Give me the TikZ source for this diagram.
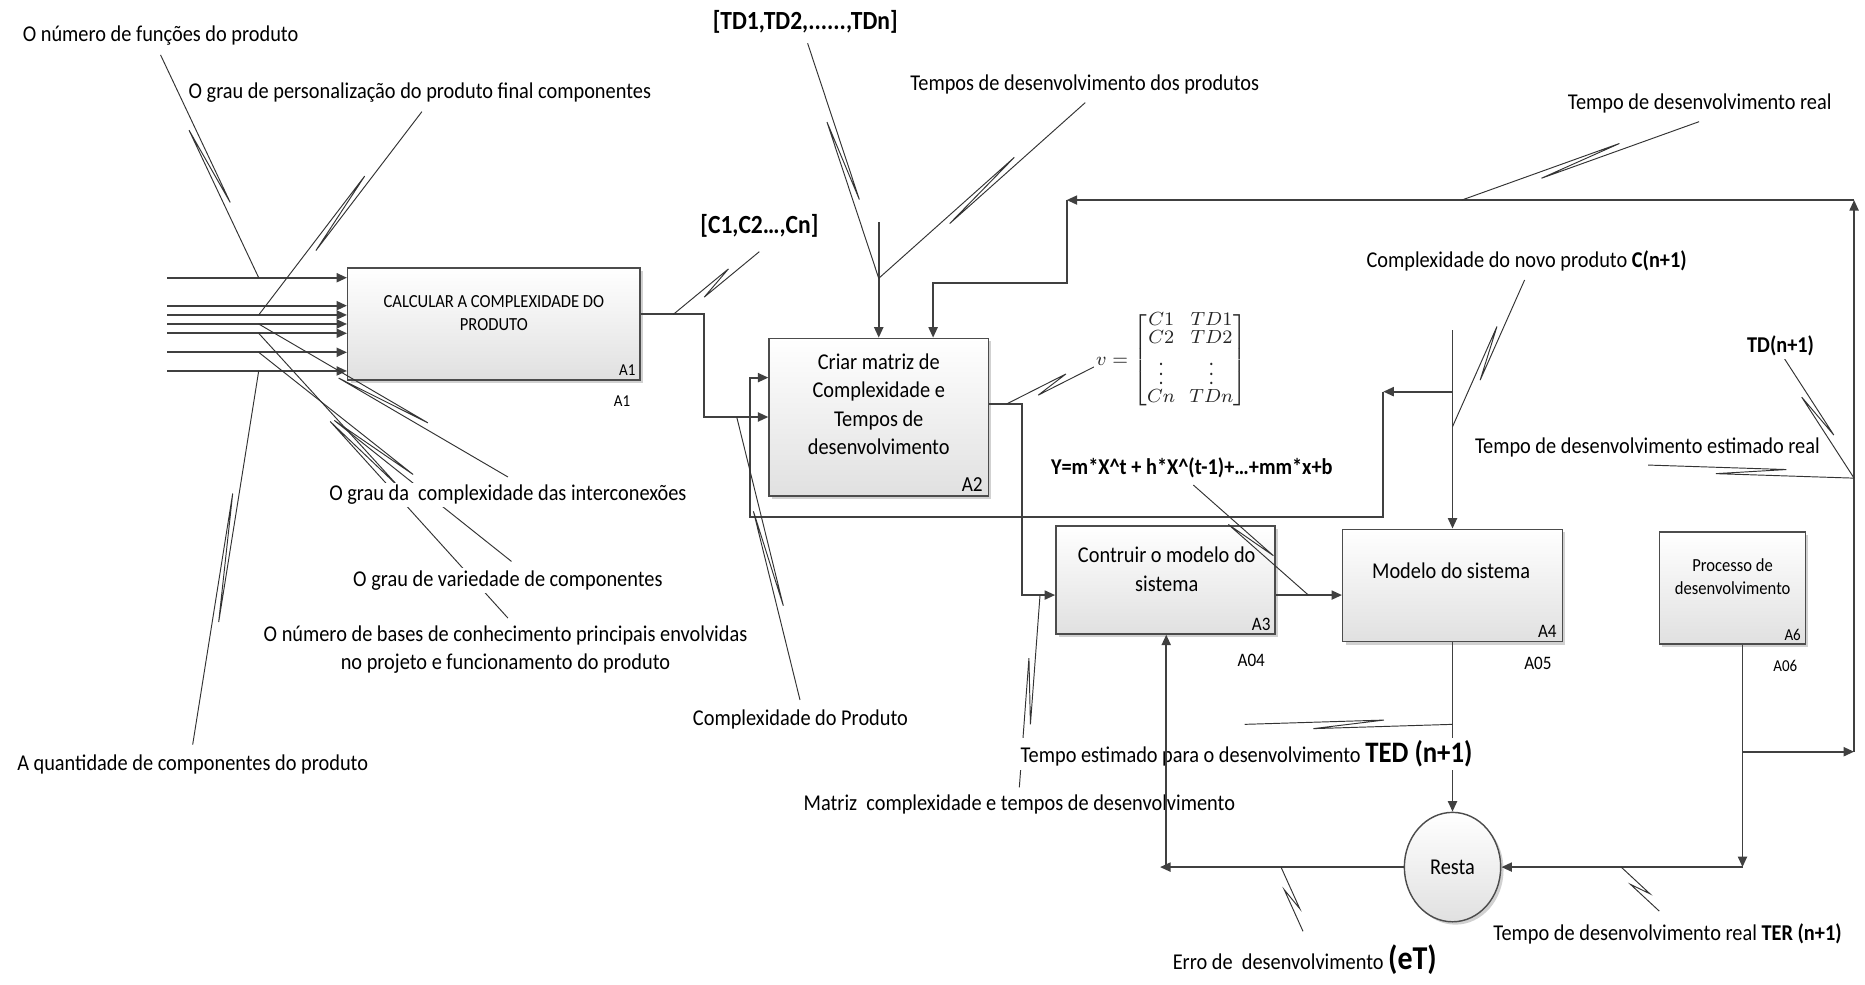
\documentclass[tikz,border=0pt]{standalone}
\usepackage{amsmath}
\usepackage{fontspec}
\setmainfont{Carlito}[FakeStretch=0.9]
\usetikzlibrary{arrows.meta,calc,shadows,shapes.geometric}

% leader line with a lightning squiggle between fractions #3 and #4
\newcommand\squigat[4]{%
  \draw[lead] (#1) -- ($(#1)!#4!(#2)!1.8pt!90:(#2)$)
                   -- ($(#1)!#3!(#2)!1.8pt!-90:(#2)$) -- (#2);}
\newcommand\squig[2]{\squigat{#1}{#2}{0.33}{0.67}}

\tikzset{
  box/.style={draw=black!70, line width=0.6pt, top color=white, bottom color=black!12,
    drop shadow={shadow xshift=1.2pt, shadow yshift=-1.2pt, opacity=0.3, fill=black!60},
    inner sep=0pt},
  conn/.style={draw=black!75, line width=0.8pt},
  arr/.style={conn, -{Triangle[length=4.4pt,width=3.8pt]}},
  lead/.style={draw=black!80, line width=0.4pt},
  lbl/.style={fill=white, inner sep=1pt, align=center, font=\fontsize{9.5}{12}\selectfont},
  bigb/.style={lbl, font=\fontsize{11}{13}\selectfont\bfseries},
  boldl/.style={lbl, font=\fontsize{9.5}{12}\selectfont\bfseries},
  btxt/.style={align=center, inner sep=0pt, font=\fontsize{9.5}{11.9}\selectfont},
  stxt/.style={align=center, inner sep=0pt, font=\fontsize{7.75}{9.8}\selectfont},
  cid/.style={inner sep=0pt, font=\fontsize{8}{9}\selectfont},
  scid/.style={inner sep=0pt, font=\fontsize{7}{8}\selectfont},
}

\begin{document}
\begin{tikzpicture}[x=0.5pt,y=-0.5pt]
\useasboundingbox (0,0) rectangle (1568,828);

% ---------- activity boxes ----------
\node[box, minimum width=122.85pt, minimum height=47.1pt] (A1) at (415.2,272.4) {};
\node[box, minimum width=92.2pt, minimum height=66.25pt] (A2) at (738.8,350.75) {};
\node[box, minimum width=92.15pt, minimum height=45.4pt] (A3) at (979.85,487.6) {};
\node[box, minimum width=92.3pt, minimum height=47.25pt] (A4) at (1221.2,492.25) {};
\node[box, minimum width=61.4pt, minimum height=47.05pt] (A6) at (1456.4,494.35) {};
\node[box, ellipse, minimum width=40.5pt, minimum height=46pt] (R) at (1221.2,729) {};

\node[stxt] (A1t) at (415.2,263.5) {CALCULAR A COMPLEXIDADE DO\\PRODUTO};
\node[btxt] (A2t) at (738.8,339.9) {Criar matriz de\\Complexidade e\\Tempos de\\desenvolvimento};
\node[btxt] (A3t) at (980.9,478.5) {Contruir o modelo do\\sistema};
\node[btxt] (A4t) at (1220,480) {Modelo do sistema};
\node[stxt] (A6t) at (1456.7,484.8) {Processo de\\desenvolvimento};
\node[btxt] (Rt) at (R) {Resta};

\node[scid, anchor=south east] (A1i) at ($(A1.south east)+(-4,-4)$) {A1};
\node[inner sep=0pt, font=\fontsize{9}{10}\selectfont, anchor=south east] (A2i) at ($(A2.south east)+(-5,-4)$) {A2};
\node[cid, anchor=south east] (A3i) at ($(A3.south east)+(-4,-3)$) {A3};
\node[cid, anchor=south east] (A4i) at ($(A4.south east)+(-5,-4)$) {A4};
\node[scid, anchor=south east] (A6i) at ($(A6.south east)+(-4,-3)$) {A6};

% ---------- inputs of A1 ----------
\foreach \yy [count=\k] in {233.5,257.0,264.8,272.4,280.2,296.2,311.9} {
  \coordinate (i\k) at (140.7,\yy);
  \coordinate (j\k) at (217.5,\yy);
  \draw[arr] (i\k) -- (i\k -| A1.west);
}

% ---------- A1 -> A2 ----------
\coordinate (k1) at (592.2,264.3);
\coordinate (k2) at (592.2,350.6);
\draw[arr] (k1 -| A1.east) -- (k1) -- (k2) -- (k2 -| A2.west);
\coordinate (jc) at (566.1,264.3);
\coordinate (jp) at (619.4,350.6);

% ---------- new product complexity ----------
\coordinate (c0) at (1221.2,277.5);
\coordinate (c1) at (1221.2,329.3);
\coordinate (c2) at (1163,329.3);
\coordinate (c3) at (1163,434.4);
\coordinate (c4) at (630.8,434.4);
\coordinate (c5) at (630.8,317.5);
\coordinate (jn) at (1221.2,358.7);
\draw[arr] (c0) -- (A4.north);
\draw[arr] (c1) -- (c2);
\draw[arr] (c2) -- (c3) -- (c4) -- (c5) -- (c5 -| A2.west);

% ---------- development times into A2 ----------
\coordinate (t0) at (738.8,187);
\coordinate (jt) at (738.8,234);
\draw[arr] (t0) -- (A2.north);

% ---------- real development time loop ----------
\coordinate (f0) at ($(A6.south)+(8.6,0)$);
\coordinate (f1) at (1465,632);
\coordinate (f2) at (1558.8,632);
\coordinate (f3) at (1558.8,168.2);
\coordinate (f4) at (896.8,168.2);
\coordinate (f5) at (896.8,238.2);
\coordinate (f6) at (784.5,238.2);
\coordinate (f7) at (1465,729);
\draw[arr] (f0) -- (f7);
\draw[arr] (f7) -- (R.east);
\draw[arr] (f1) -- (f2);
\draw[arr] (f2) -- (f3);
\draw[arr] (f3) -- (f4);
\draw[arr] (f4) -- (f5) -- (f6) -- (f6 |- A2.north);
\coordinate (jr) at (1229,168.2);
\coordinate (je) at (1558.8,402);

% ---------- A2 -> A3 -> A4 -> Resta ----------
\coordinate (m1) at (859,339.7);
\coordinate (m2) at (859,500.3);
\draw[arr] (m1 -| A2.east) -- (m1) -- (m2) -- (m2 -| A3.west);
\draw[arr] (m2 -| A3.east) -- (m2 -| A4.west);
\draw[arr] (A4.south) -- (R.north);
\coordinate (jm) at (846.2,339.7);
\coordinate (jy) at (1100,500.3);
\coordinate (jx) at (874.4,500.3);
\coordinate (jd) at (1221.2,609);

% ---------- Resta output ----------
\coordinate (r1) at (975.3,729);
\coordinate (r2) at (980.5,729);
\draw[arr] (R.west) -- (r1);
\coordinate (jerr) at (1077,729);
\coordinate (jter) at (1363,729);

% ---------- leader ends at the labels ----------
\coordinate (s1) at (135,46.2);
\coordinate (s2) at (354.7,93.9);
\coordinate (s3) at (427,401);
\coordinate (s4) at (430,472);
\coordinate (s5) at (427,519.6);
\coordinate (s6) at (162,626);
\coordinate (sc) at (638.4,211.6);
\coordinate (std) at (679,36.4);
\coordinate (stp) at (912.4,86.3);
\coordinate (str) at (1428.5,102.3);
\coordinate (scn) at (1281.8,235.4);
\coordinate (stdn) at (1497.7,297.6);
\coordinate (sest) at (1385.6,391);
\coordinate (smat) at (922.9,306.9);
\coordinate (sy) at (1003.3,407.8);
\coordinate (scp) at (672.6,588.5);
\coordinate (smz) at (857,662);
\coordinate (sted) at (1046.5,609);
\coordinate (serr) at (1095.5,783);
\coordinate (ster) at (1395,766);

\squig{s1}{j1}
\squig{s2}{j3}
\squig{s3}{j4}
\squigat{s4}{j6}{0.40}{0.69}
\squigat{s5}{j5}{0.45}{0.70}
\squig{s6}{j7}
\squig{sc}{jc}
\squig{std}{jt}
\squig{stp}{jt}
\squig{str}{jr}
\squig{scn}{jn}
\squig{stdn}{je}
\squig{sest}{je}
\squig{smat}{jm}
\squig{sy}{jy}
\squig{scp}{jp}
\squig{smz}{jx}
\squig{sted}{jd}
\squig{serr}{jerr}
\squig{ster}{jter}

% ---------- labels ----------
\node[lbl] (l1) at (135,30) {O número de funções do produto};
\node[lbl] (l2) at (353,78) {O grau de personalização do produto final componentes};
\node[bigb] (l3) at (677,18) {[TD1,TD2,......,TDn]};
\node[lbl] (l4) at (912,71) {Tempos de desenvolvimento dos produtos};
\node[lbl] (l5) at (1429,87) {Tempo de desenvolvimento real};
\node[bigb] (l6) at (638.5,190) {[C1,C2…,Cn]};
\node[lbl] (l7) at (1283.5,219) {Complexidade do novo produto \textbf{C(n+1)}};
\node[boldl] (l8) at (1497,291) {TD(n+1)};
\node[lbl] (l9) at (1385,376) {Tempo de desenvolvimento estimado real};
\node[boldl] (l10) at (1002,393) {Y=m*X\textasciicircum t + h*X\textasciicircum(t-1)+…+mm*x+b};
\node[lbl] (l11) at (427,416) {O grau da\ \ complexidade das interconexões};
\node[lbl] (l12) at (427,488) {O grau de variedade de componentes};
\node[lbl] (l13) at (425,546) {O número de bases de conhecimento principais envolvidas\\no projeto e funcionamento do produto};
\node[lbl] (l14) at (673,605) {Complexidade do Produto};
\node[lbl] (l15) at (162,643) {A quantidade de componentes do produto};
\node[lbl] (l16) at (1048,634) {Tempo estimado para o desenvolvimento {\fontsize{12.5}{14}\selectfont\bfseries TED (n+1)}};
\node[lbl] (l17) at (857,676) {Matriz\ \ complexidade e tempos de desenvolvimento};
\node[lbl] (l18) at (1097,807) {Erro de\ \ desenvolvimento {\fontsize{14}{16}\selectfont\bfseries (eT)}};
\node[lbl] (l19) at (1402,785) {Tempo de desenvolvimento real \textbf{TER (n+1)}};
\node[lbl, text=black!85, font=\fontsize{8.5}{9}\selectfont] (mat) at (985,303)
  {$\renewcommand\arraystretch{0.82}\setlength\arraycolsep{3pt}%
    v=\begin{bmatrix} C1 & TD1\\ C2 & TD2\\ \vdots & \vdots\\ Cn & TDn\end{bmatrix}$};

% identifiers under the boxes
\node[scid] (A1o) at (523,337) {A1};
\node[cid] (A04) at (1052,555) {A04};
\node[cid] (A05) at (1293,558) {A05};
\node[scid] (A06) at (1501,560) {A06};

% error fed back to A3 (drawn over the labels)
\draw[arr] (r2) -- (r2 |- A3.south);
\end{tikzpicture}
\end{document}
